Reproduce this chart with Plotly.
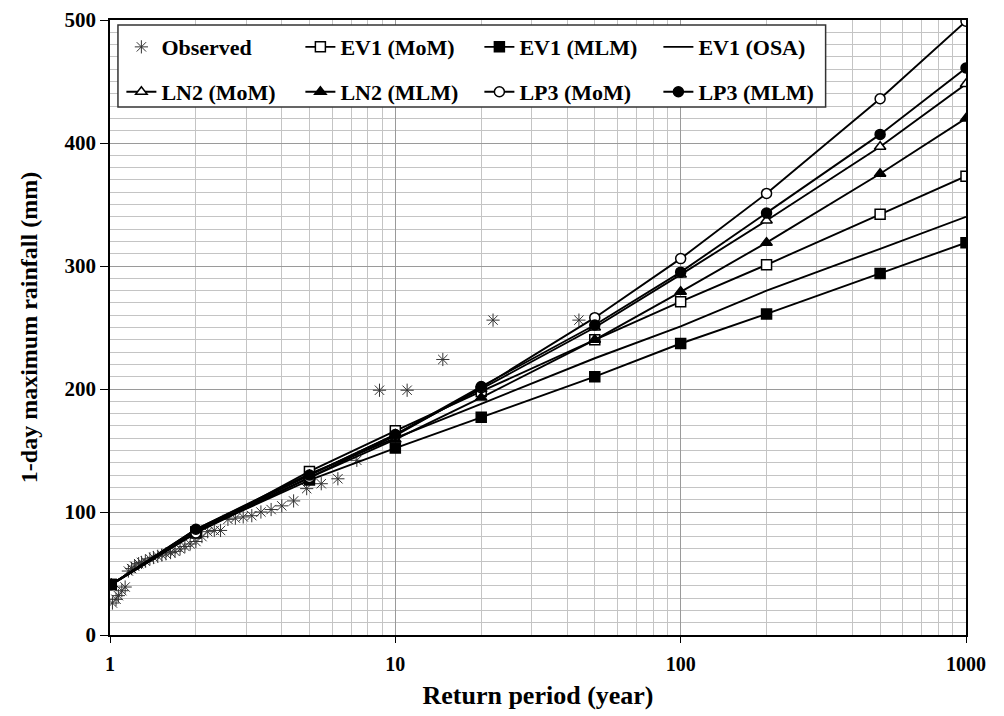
import plotly.graph_objects as go

# Fitted return periods (years) and quantiles (mm)
return_period = [1.01, 2, 5, 10, 20, 50, 100, 200, 500, 1000]
ev1_mom = [41, 83, 133, 166, 198, 240, 271, 301, 342, 373]
ev1_mlm = [41, 84, 126, 152, 177, 210, 237, 261, 294, 319]
ev1_osa = [41, 86, 131, 160, 188, 225, 251, 280, 314, 340]
ln2_mom = [41, 85, 130, 163, 200, 250, 293, 337, 397, 448]
ln2_mlm = [41, 85, 128, 159, 193, 240, 279, 319, 375, 420]
lp3_mom = [41, 83, 128, 162, 201, 258, 306, 359, 436, 499]
lp3_mlm = [41, 86, 130, 163, 202, 252, 295, 343, 407, 461]

# Observed annual maxima with their plotting-position return periods
obs_period = [44.0, 22.0, 14.67, 11.0, 8.8, 7.33, 6.29, 5.5, 4.89, 4.4,
              4.0, 3.67, 3.38, 3.14, 2.93, 2.75, 2.59, 2.44, 2.32, 2.2,
              2.1, 2.0, 1.91, 1.83, 1.76, 1.69, 1.63, 1.57, 1.52, 1.47,
              1.42, 1.38, 1.33, 1.29, 1.26, 1.22, 1.19, 1.16, 1.13, 1.1,
              1.07, 1.05, 1.02]
obs_rain = [256, 256, 224, 199, 199, 142, 127, 123, 119, 109,
            105, 102, 100, 97, 96, 95, 94, 85, 85, 84,
            80, 76, 74, 72, 70, 68, 67, 66, 65, 64,
            63, 62, 60, 59, 58, 56, 54, 52, 39, 36,
            32, 29, 26]

x_ticks = [1, 10, 100, 1000]
x_tick_text = ["1", "10", "100", "1000"]
y_ticks = [0, 100, 200, 300, 400, 500]

FONT = "Liberation Serif"
LW = 1.9
MS = 10

fig = go.Figure()


def fitted(name, y, symbol, fill, legend, show_marker=True):
    fig.add_trace(go.Scatter(
        x=return_period, y=y, name=name,
        mode="lines+markers" if show_marker else "lines",
        line=dict(color="black", width=LW),
        marker=dict(symbol=symbol, size=MS, color=fill,
                    line=dict(color="black", width=1.5)),
        legend=legend,
    ))


fig.add_trace(go.Scatter(
    x=obs_period, y=obs_rain, name="Observed", mode="markers",
    marker=dict(symbol="asterisk-open", size=11, color="#333333",
                line=dict(color="#333333", width=1)),
    legend="legend",
))
fitted("EV1 (MoM)", ev1_mom, "square", "white", "legend")
fitted("EV1 (MLM)", ev1_mlm, "square", "black", "legend")
fitted("EV1 (OSA)", ev1_osa, "circle", "black", "legend", show_marker=False)
fitted("LN2 (MoM)", ln2_mom, "triangle-up", "white", "legend2")
fitted("LN2 (MLM)", ln2_mlm, "triangle-up", "black", "legend2")
fitted("LP3 (MoM)", lp3_mom, "circle", "white", "legend2")
fitted("LP3 (MLM)", lp3_mlm, "circle", "black", "legend2")

legend_font = dict(family=FONT, size=22, color="black", weight="bold")
common_legend = dict(orientation="h", font=legend_font, bgcolor="rgba(0,0,0,0)",
                     borderwidth=0, entrywidth=134, entrywidthmode="pixels",
                     xanchor="left", yanchor="middle", itemwidth=30,
                     tracegroupgap=0)

# The page body adds an 8px offset, so the figure is sized to compensate.
fig.update_layout(
    width=996, height=708,
    margin=dict(l=102, r=38, t=12, b=81),
    paper_bgcolor="white", plot_bgcolor="white",
    font=dict(family=FONT, color="black"),
    legend=dict(x=0.0133, y=0.956, **common_legend),
    legend2=dict(x=0.0133, y=0.883, **common_legend),
    shapes=[dict(type="rect", xref="paper", yref="paper",
                 x0=0.0093, x1=0.836, y0=0.8585, y1=0.9919,
                 line=dict(color="#333333", width=1.5),
                 fillcolor="white", layer="above")],
)

fig.update_xaxes(
    type="log", range=[0, 3], automargin=False,
    tickvals=x_ticks, ticktext=x_tick_text,
    tickfont=dict(family=FONT, size=20, color="black", weight="bold"),
    ticks="outside", ticklen=6, tickcolor="black", tickwidth=1,
    ticklabelstandoff=4,
    showline=True, linecolor="black", linewidth=1.5, mirror=True,
    showgrid=True, gridcolor="#9a9a9a", gridwidth=1,
    minor=dict(dtick="D1", showgrid=True, gridcolor="#c4c4c4", gridwidth=1, ticks=""),
    zeroline=False,
    title=dict(text="Return period (year)",
               font=dict(family=FONT, size=26, color="black", weight="bold"),
               standoff=12),
)
fig.update_yaxes(
    range=[0, 500], tickvals=y_ticks, automargin=False,
    tickfont=dict(family=FONT, size=21, color="black", weight="bold"),
    ticks="outside", ticklen=8, tickcolor="black", tickwidth=1,
    showline=True, linecolor="black", linewidth=1.5, mirror=True,
    showgrid=True, gridcolor="#9a9a9a", gridwidth=1,
    minor=dict(dtick=10, showgrid=True, gridcolor="#c4c4c4", gridwidth=1, ticks=""),
    zeroline=False,
    title=dict(text="1-day maximum rainfall (mm)",
               font=dict(family=FONT, size=24, color="black", weight="bold"),
               standoff=20),
)

fig.write_html("out.html")
